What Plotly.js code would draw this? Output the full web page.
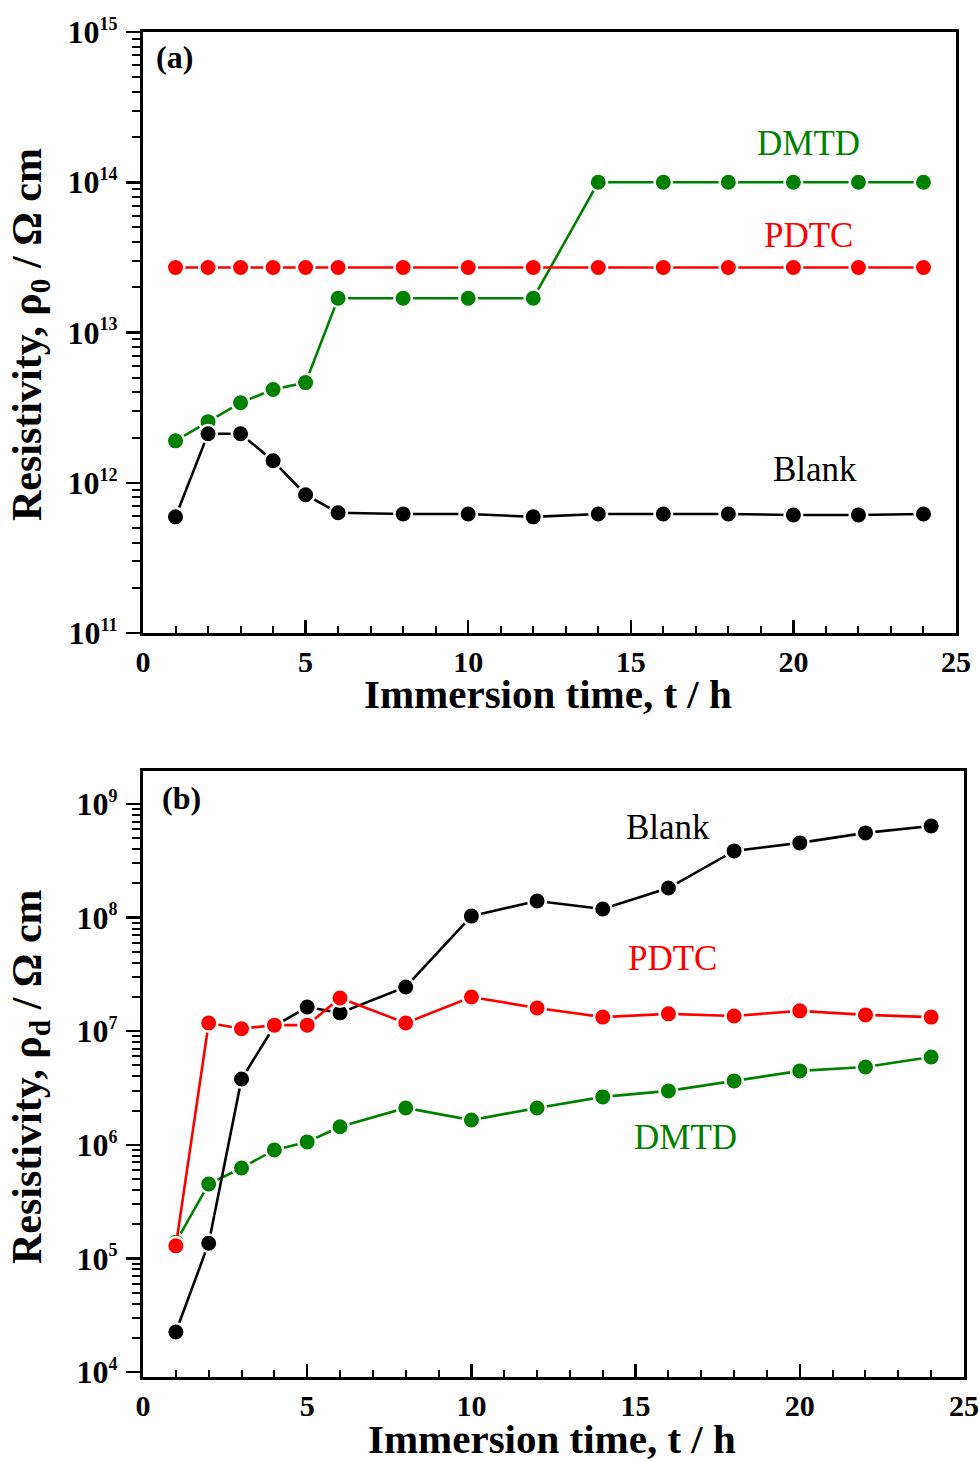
<!DOCTYPE html>
<html>
<head>
<meta charset="utf-8">
<script src="https://cdn.plot.ly/plotly-3.0.1.min.js"></script>
<style>html,body{margin:0;padding:0;background:#fff;}#chart{width:979px;height:1461px;}</style>
</head>
<body>
<div id="chart"></div>
<script>
// ---------- data ----------
const timeA = [1, 2, 3, 4, 5, 6, 8, 10, 12, 14, 16, 18, 20, 22, 24];
const blankA = [5.93e11, 2.12e12, 2.12e12, 1.40e12, 8.32e11, 6.31e11, 6.2e11, 6.2e11, 5.93e11, 6.2e11, 6.2e11, 6.2e11, 6.1e11, 6.1e11, 6.2e11];
const dmtdA = [1.9e12, 2.55e12, 3.41e12, 4.17e12, 4.64e12, 1.69e13, 1.69e13, 1.69e13, 1.69e13, 1e14, 1e14, 1e14, 1e14, 1e14, 1e14];
const pdtcA = [2.71e13, 2.71e13, 2.71e13, 2.71e13, 2.71e13, 2.71e13, 2.71e13, 2.71e13, 2.71e13, 2.71e13, 2.71e13, 2.71e13, 2.71e13, 2.71e13, 2.71e13];

const timeB = [1, 2, 3, 4, 5, 6, 8, 10, 12, 14, 16, 18, 20, 22, 24];
const blankB = [2.25e4, 1.36e5, 3.79e6, 1.11e7, 1.63e7, 1.45e7, 2.45e7, 1.03e8, 1.40e8, 1.19e8, 1.82e8, 3.86e8, 4.54e8, 5.56e8, 6.4e8];
const pdtcB = [1.29e5, 1.18e7, 1.05e7, 1.13e7, 1.13e7, 1.96e7, 1.18e7, 2.0e7, 1.60e7, 1.33e7, 1.42e7, 1.36e7, 1.51e7, 1.39e7, 1.33e7];
const dmtdB = [1.39e5, 4.52e5, 6.25e5, 9.0e5, 1.06e6, 1.44e6, 2.11e6, 1.65e6, 2.11e6, 2.64e6, 2.98e6, 3.65e6, 4.47e6, 4.84e6, 5.93e6];

const seriesNames = ['Blank', 'PDTC', 'DMTD'];
const xTickVals = [0, 5, 10, 15, 20, 25];
const xTickText = ['0', '5', '10', '15', '20', '25'];
const yTickValsA = [1e11, 1e12, 1e13, 1e14, 1e15];
const yExpA = ['11', '12', '13', '14', '15'];
const yTickValsB = [1e4, 1e5, 1e6, 1e7, 1e8, 1e9];
const yExpB = ['4', '5', '6', '7', '8', '9'];
const xTitle = 'Immersion time, t / h';
const yTitleA = 'Resistivity, ρ<sub>0</sub> / Ω cm';
const yTitleB = 'Resistivity, ρ<sub>d</sub> / Ω cm';

// ---------- styling ----------
const SERIF = 'Liberation Serif, Times New Roman, serif';
const colors = {Blank: '#000000', PDTC: '#ff0000', DMTD: '#008000'};

function powLabels(exps) {
  return exps.map(e => '10<sup><span style="font-size:18px">' + e + '</span></sup>');
}

function minorDecades(lo, hi) {
  const v = [];
  for (let e = lo; e < hi; e++) for (let m = 2; m <= 9; m++) v.push(m * Math.pow(10, e));
  return v;
}

function trace(x, y, name, xa, ya) {
  return {
    x: x, y: y, name: name, xaxis: xa, yaxis: ya, type: 'scatter', mode: 'lines+markers',
    line: {color: colors[name], width: 2.6},
    marker: {color: colors[name], size: 17.5, line: {color: '#ffffff', width: 2.5}},
    showlegend: false, cliponaxis: false
  };
}

const data = [
  trace(timeA, dmtdA, 'DMTD', 'x', 'y'),
  trace(timeA, blankA, 'Blank', 'x', 'y'),
  trace(timeA, pdtcA, 'PDTC', 'x', 'y'),
  trace(timeB, dmtdB, 'DMTD', 'x2', 'y2'),
  trace(timeB, blankB, 'Blank', 'x2', 'y2'),
  trace(timeB, pdtcB, 'PDTC', 'x2', 'y2')
];

const W = 979, H = 1461;

function xAxis(dom, anchor) {
  return {
    domain: dom, anchor: anchor, range: [0, 25], tickmode: 'array', tickvals: xTickVals, ticktext: xTickText,
    ticks: 'inside', ticklen: 13, tickwidth: 2.5, tickcolor: '#000',
    minor: {dtick: 1, tick0: 0, ticks: 'inside', ticklen: 7, tickwidth: 2, tickcolor: '#000', showgrid: false},
    showline: true, linewidth: 3, linecolor: '#000', mirror: true, showgrid: false, zeroline: false,
    tickfont: {family: SERIF, size: 30, color: '#000', weight: 'bold'}, ticklabelstandoff: 0, fixedrange: true
  };
}
function yAxis(dom, anchor, range, tv, tt, mlo, mhi) {
  return {
    domain: dom, anchor: anchor, type: 'log', range: range, tickmode: 'array', tickvals: tv, ticktext: tt,
    ticks: 'outside', ticklen: 14, tickwidth: 2.5, tickcolor: '#000',
    minor: {tickmode: 'array', tickvals: minorDecades(mlo, mhi), ticks: 'outside', ticklen: 8, tickwidth: 2, tickcolor: '#000', showgrid: false},
    showline: true, linewidth: 3, linecolor: '#000', mirror: true, showgrid: false, zeroline: false,
    tickfont: {family: SERIF, size: 32, color: '#000', weight: 'bold'}, ticklabelstandoff: 2, fixedrange: true
  };
}

function ann(text, x, y, xref, yref, color, size, bold, extra) {
  return Object.assign({
    text: text, x: x, y: y, xref: xref, yref: yref, showarrow: false,
    font: {family: SERIF, size: size, color: color, weight: bold ? 'bold' : 'normal'},
    xanchor: 'center', yanchor: 'middle'
  }, extra || {});
}

const annotations = [
  ann('(a)', 0.98, 14.833, 'x', 'y', '#000', 32, true),
  ann('DMTD', 20.45, 14.26, 'x', 'y', colors.DMTD, 35, false),
  ann('PDTC', 20.45, 13.647, 'x', 'y', colors.PDTC, 35, false),
  ann('Blank', 20.66, 12.087, 'x', 'y', colors.Blank, 35, false),
  ann('(b)', 1.16, 9.053, 'x2', 'y2', '#000', 32, true),
  ann('Blank', 15.99, 8.789, 'x2', 'y2', colors.Blank, 35, false),
  ann('PDTC', 16.11, 7.644, 'x2', 'y2', colors.PDTC, 35, false),
  ann('DMTD', 16.53, 6.06, 'x2', 'y2', colors.DMTD, 35, false),
  ann(xTitle, 548 / W, 1 - 694 / H, 'paper', 'paper', '#000', 41, true),
  ann(xTitle, 552 / W, 1 - 1439 / H, 'paper', 'paper', '#000', 41, true),
  ann(yTitleA, 30 / W, 1 - 335 / H, 'paper', 'paper', '#000', 42, true, {textangle: -90}),
  ann(yTitleB, 30 / W, 1 - 1077 / H, 'paper', 'paper', '#000', 42, true, {textangle: -90})
];

const layout = {
  width: W, height: H, margin: {l: 0, r: 0, t: 0, b: 0},
  paper_bgcolor: '#fff', plot_bgcolor: '#fff',
  xaxis: xAxis([143 / W, 956 / W], 'y'),
  yaxis: yAxis([1 - 633 / H, 1 - 32 / H], 'x', [11, 15], yTickValsA, powLabels(yExpA), 11, 15),
  xaxis2: xAxis([143 / W, 964 / W], 'y2'),
  yaxis2: yAxis([1 - 1377 / H, 1 - 771 / H], 'x2', [3.956, 9.29], yTickValsB, powLabels(yExpB), 4, 10),
  annotations: annotations
};

Plotly.newPlot('chart', data, layout, {staticPlot: true, displayModeBar: false});
</script>
</body>
</html>
